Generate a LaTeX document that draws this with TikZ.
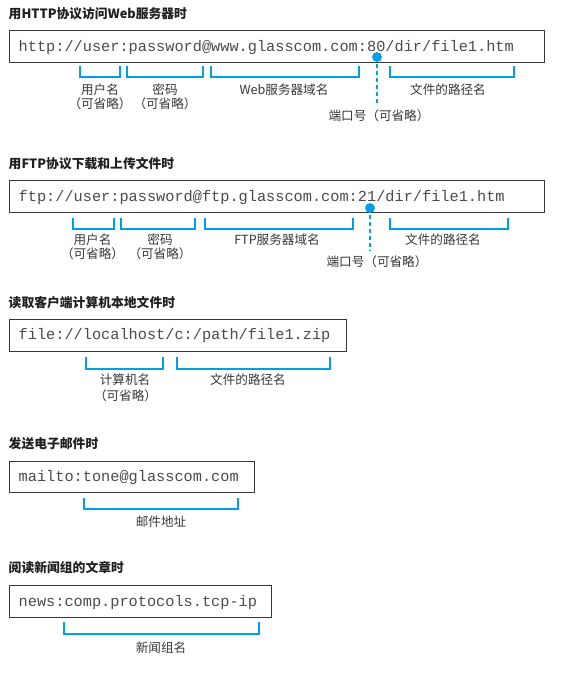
\documentclass[tikz,border=0pt]{standalone}
\usepackage{fontspec}
\setmainfont{Noto Sans CJK SC}
\newfontfamily\urlfont{Liberation Mono}
\definecolor{cy}{RGB}{0,160,230}
\definecolor{ink}{RGB}{55,55,55}
\definecolor{urlc}{RGB}{75,75,75}
\definecolor{boxc}{RGB}{55,55,55}
\tikzset{
 ttl/.style={anchor=west, inner sep=0, font=\fontsize{12.8}{14}\selectfont\bfseries, text=black!88},
 urlbox/.style={draw=boxc, line width=1.1pt, anchor=north west, inner sep=0},
 url/.style={anchor=base west, inner sep=0, font=\urlfont\fontsize{15.28}{16}\selectfont, text=urlc},
 lbl/.style={inner sep=0, font=\fontsize{12.6}{14}\selectfont, text=ink},
 brk/.style={draw=cy, line width=2pt},
 portdot/.style={circle, fill=cy, minimum size=9.5pt, inner sep=0},
 dsh/.style={draw=cy, line width=2.2pt, dash pattern=on 4pt off 3pt},
}
\begin{document}
\begin{tikzpicture}[x=1pt,y=-1pt]
\useasboundingbox (0,0) rectangle (576,675);

% ---------- Section 1 ----------
\node[ttl] (t1) at (8.5,14) {用HTTP协议访问Web服务器时};
\node[urlbox, minimum width=535pt, minimum height=32.5pt] (b1) at (8.5,29.5) {};
\node[url] (u1) at (18.5,51) {http://user:password@www.glasscom.com:80/dir/file1.htm};
\draw[brk] (80,66) -- (80,77) -- (120,77) -- (120,66);
\draw[brk] (127,66) -- (127,77) -- (203,77) -- (203,66);
\draw[brk] (211,66) -- (211,77) -- (359,77) -- (359,66);
\draw[brk] (390,66) -- (390,77) -- (514,77) -- (514,66);
\node[portdot] (d1) at (377,57) {};
\coordinate (d1e) at (377,105);
\draw[dsh] (d1.center) -- (d1e);
\node[portdot] at (d1) {};
\node[lbl] (l1a) at (100,90) {用户名};
\node[lbl] (l1b) at (100,104) {（可省略）};
\node[lbl] (l1c) at (165,90) {密码};
\node[lbl] (l1d) at (165,104) {（可省略）};
\node[lbl] (l1e) at (284,90) {Web服务器域名};
\node[lbl] (l1f) at (448,90) {文件的路径名};
\node[lbl] (l1g) at (379,115.5) {端口号（可省略）};

% ---------- Section 2 ----------
\node[ttl] (t2) at (8.5,163.5) {用FTP协议下载和上传文件时};
\node[urlbox, minimum width=535pt, minimum height=32.5pt] (b2) at (8.5,179.5) {};
\node[url] (u2) at (18.5,201) {ftp://user:password@ftp.glasscom.com:21/dir/file1.htm};
\draw[brk] (73,217.5) -- (73,228.5) -- (114,228.5) -- (114,217.5);
\draw[brk] (121,217.5) -- (121,228.5) -- (195,228.5) -- (195,217.5);
\draw[brk] (205,217.5) -- (205,228.5) -- (353,228.5) -- (353,217.5);
\draw[brk] (390,217.5) -- (390,228.5) -- (508,228.5) -- (508,217.5);
\node[portdot] (d2) at (370,208) {};
\coordinate (d2e) at (370,251);
\draw[dsh] (d2.center) -- (d2e);
\node[portdot] at (d2) {};
\node[lbl] (l2a) at (92.5,239.5) {用户名};
\node[lbl] (l2b) at (92.5,254) {（可省略）};
\node[lbl] (l2c) at (160,239.5) {密码};
\node[lbl] (l2d) at (160,254) {（可省略）};
\node[lbl] (l2e) at (277,240) {FTP服务器域名};
\node[lbl] (l2f) at (443,239.5) {文件的路径名};
\node[lbl] (l2g) at (377,261.5) {端口号（可省略）};

% ---------- Section 3 ----------
\node[ttl] (t3) at (8.5,303) {读取客户端计算机本地文件时};
\node[urlbox, minimum width=337pt, minimum height=32pt] (b3) at (8.5,319) {};
\node[url] (u3) at (18.5,339.5) {file://localhost/c:/path/file1.zip};
\draw[brk] (86,357) -- (86,368.5) -- (163,368.5) -- (163,357);
\draw[brk] (177,357) -- (177,368.5) -- (330,368.5) -- (330,357);
\node[lbl] (l3a) at (125,380) {计算机名};
\node[lbl] (l3b) at (125.5,396) {（可省略）};
\node[lbl] (l3c) at (248,380) {文件的路径名};

% ---------- Section 4 ----------
\node[ttl] (t4) at (8.5,444) {发送电子邮件时};
\node[urlbox, minimum width=245pt, minimum height=31.5pt] (b4) at (8.5,460.5) {};
\node[url] (u4) at (18.5,481) {mailto:tone@glasscom.com};
\draw[brk] (84,497.5) -- (84,508.5) -- (238,508.5) -- (238,497.5);
\node[lbl] (l4a) at (161,521.5) {邮件地址};

% ---------- Section 5 ----------
\node[ttl] (t5) at (8.5,568) {阅读新闻组的文章时};
\node[urlbox, minimum width=262pt, minimum height=31.5pt] (b5) at (8.5,585) {};
\node[url] (u5) at (18.5,606.5) {news:comp.protocols.tcp-ip};
\draw[brk] (64,622) -- (64,633.5) -- (259,633.5) -- (259,622);
\node[lbl] (l5a) at (161,648) {新闻组名};
\end{tikzpicture}
\end{document}
